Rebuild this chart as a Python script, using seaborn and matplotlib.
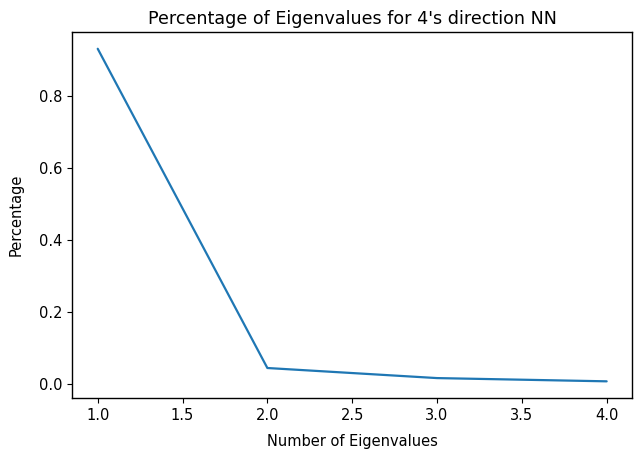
import matplotlib
matplotlib.use("Agg")
import matplotlib.pyplot as plt
import seaborn as sns
import pandas as pd

# Share of variance carried by each eigenvalue
num_eigenvalues = [1, 2, 3, 4]
percentages = [0.932, 0.045, 0.017, 0.008]

df = pd.DataFrame({"Number of Eigenvalues": num_eigenvalues,
                   "Percentage": percentages})

sns.set_style("ticks")
plt.rcParams["font.family"] = ["DejaVu Sans"]
plt.rcParams["text.color"] = "black"
plt.rcParams["axes.labelcolor"] = "black"
plt.rcParams["xtick.color"] = "black"
plt.rcParams["ytick.color"] = "black"

fig = plt.figure(figsize=(6.34, 4.59), dpi=100)
ax = fig.add_axes([0.114, 0.133, 0.883, 0.797])

sns.lineplot(data=df, x="Number of Eigenvalues", y="Percentage",
             ax=ax, color="#1f77b4", linewidth=1.6)

ax.set_title("Percentage of Eigenvalues for 4's direction NN", fontsize=12.6)
ax.set_xlabel("Number of Eigenvalues", fontsize=10.5, labelpad=8)
ax.set_ylabel("Percentage", fontsize=10.5, labelpad=11)
ax.tick_params(labelsize=10.5)
for s in ax.spines.values():
    s.set_visible(True)
    s.set_color("black")
    s.set_linewidth(1)

fig.savefig("out.png", dpi=100)
